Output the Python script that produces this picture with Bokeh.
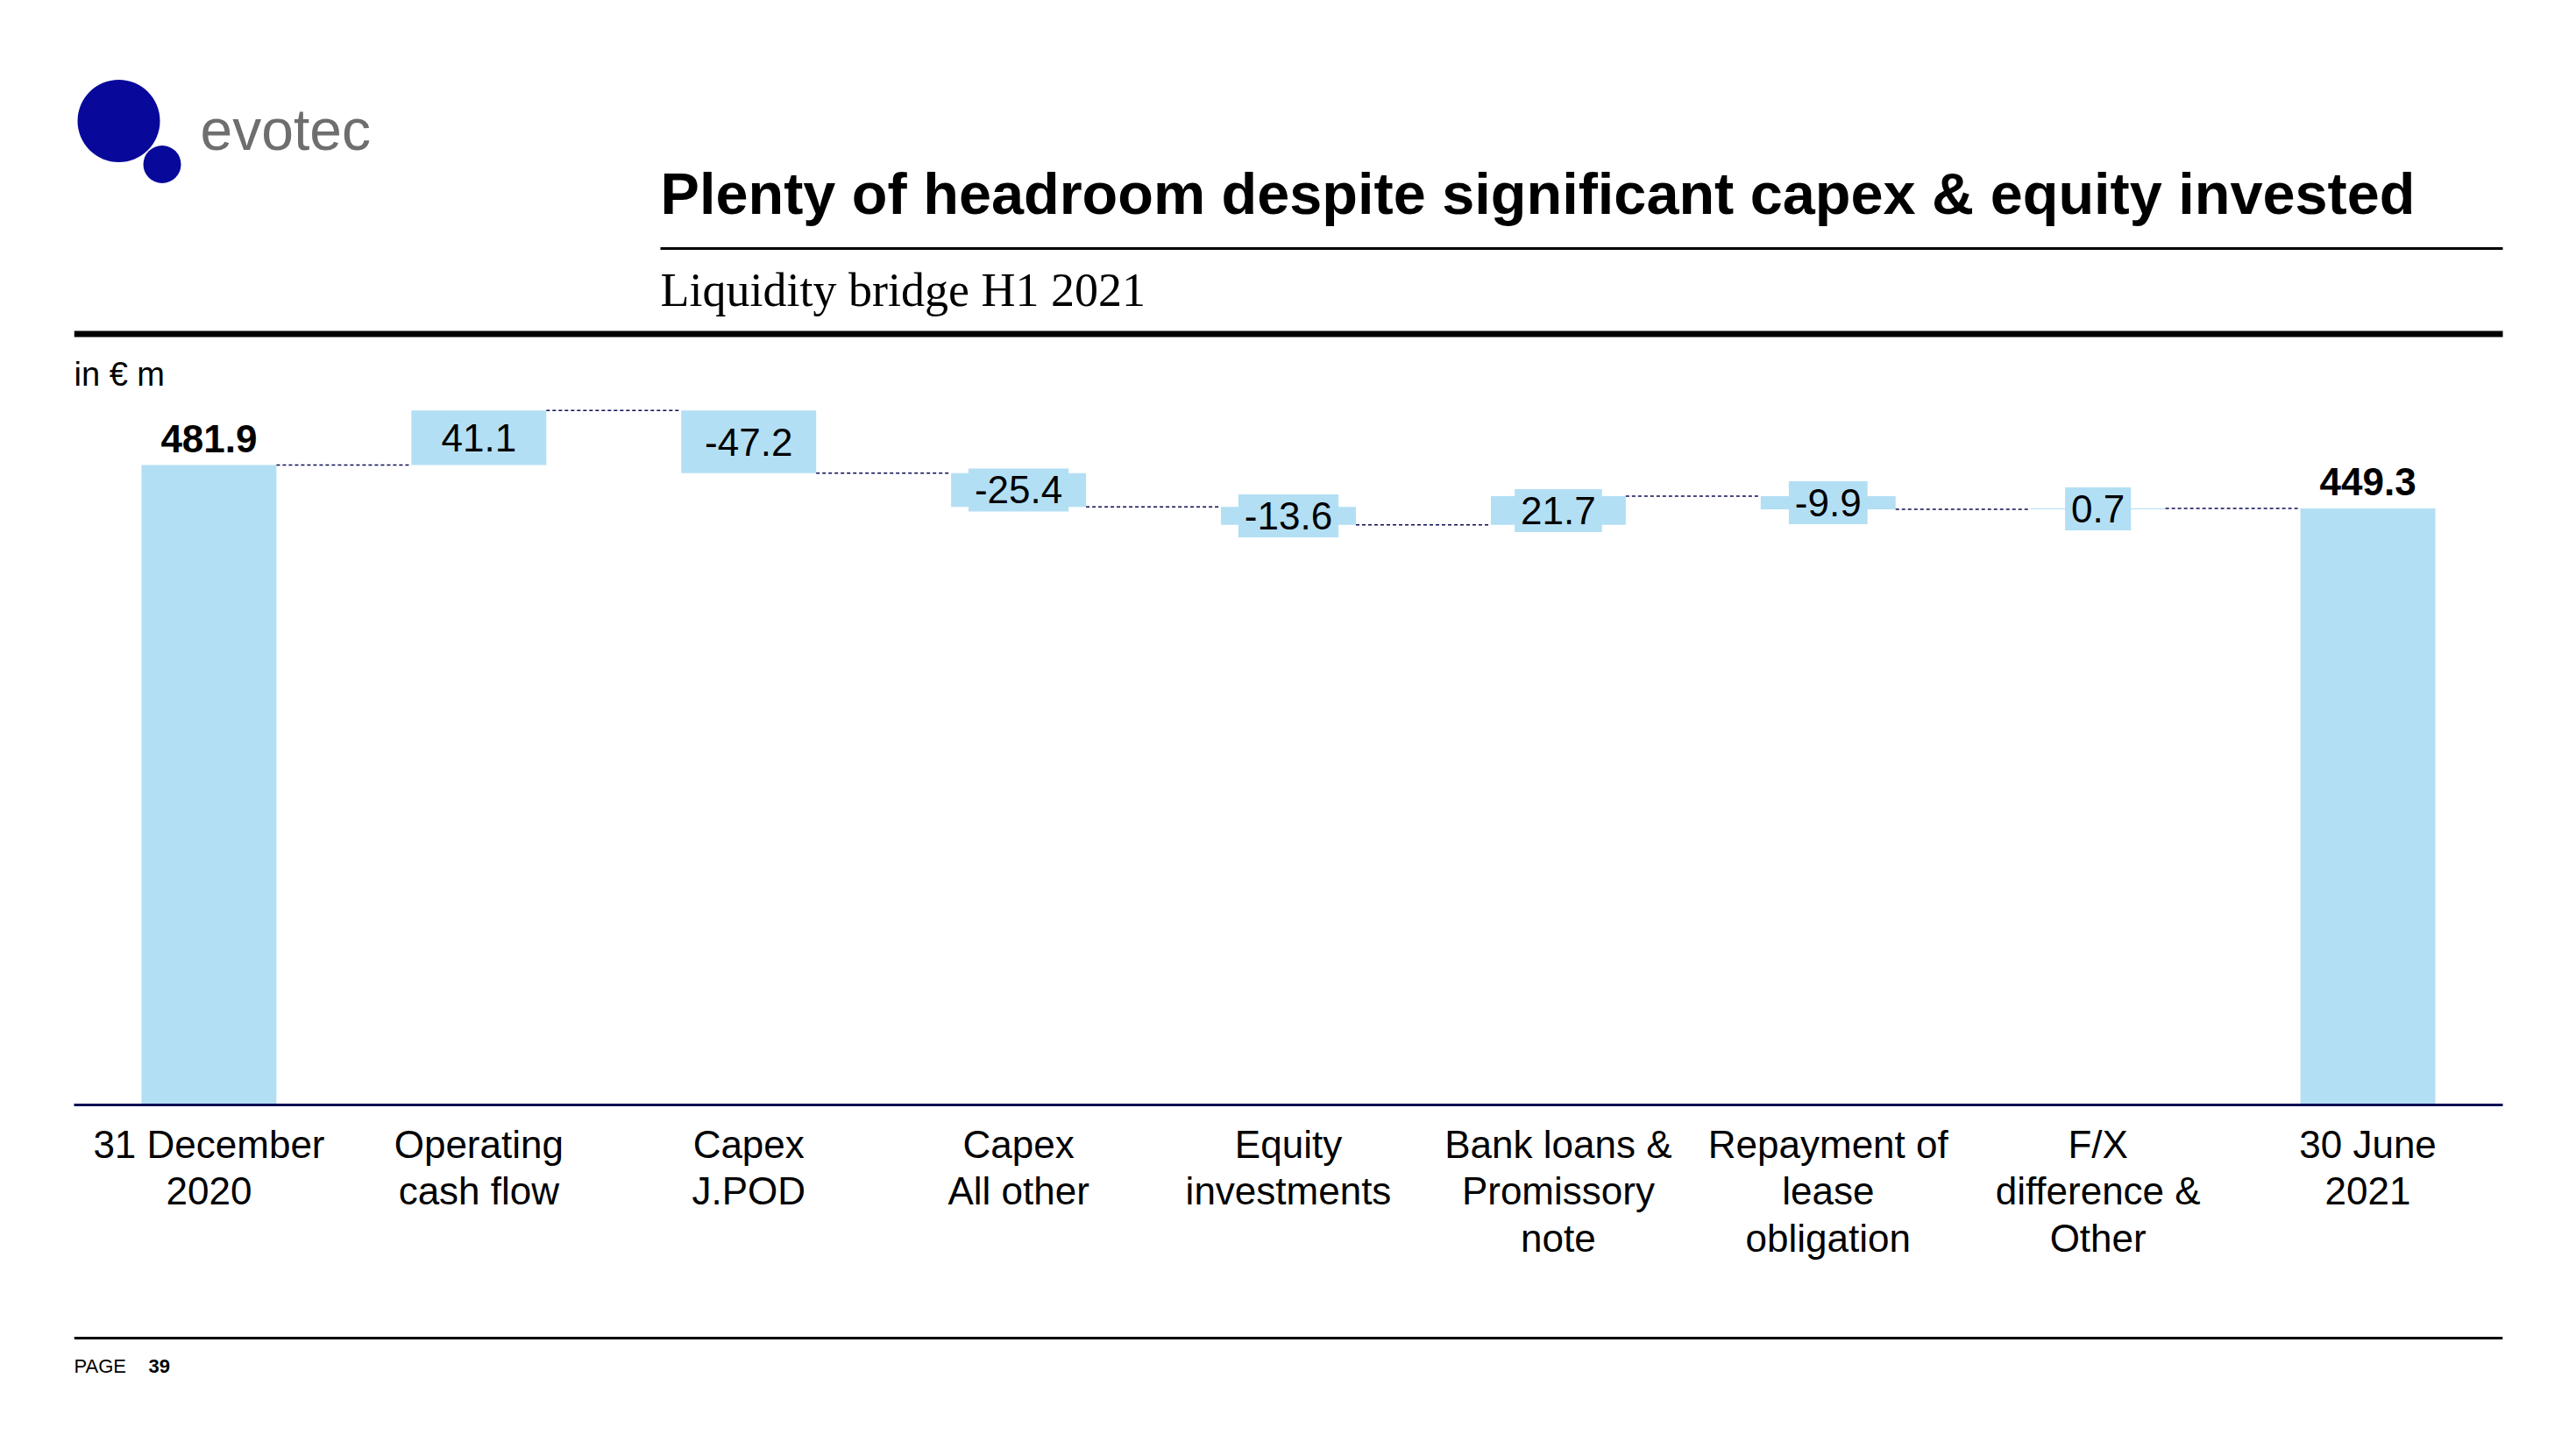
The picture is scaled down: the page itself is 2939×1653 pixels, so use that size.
from bokeh.plotting import figure
from bokeh.models import Range1d, FactorRange, ColumnDataSource
from bokeh.layouts import column
from bokeh.core.properties import value
from bokeh.embed import file_html
from bokeh.resources import INLINE

# ---------------- data ----------------
categories = ["31 December\n2020", "Operating\ncash flow", "Capex\nJ.POD", "Capex\nAll other",
              "Equity\ninvestments", "Bank loans &\nPromissory\nnote", "Repayment of\nlease\nobligation",
              "F/X\ndifference &\nOther", "30 June\n2021"]
start_total = 481.9
deltas = [41.1, -47.2, -25.4, -13.6, 21.7, -9.9, 0.7]
end_total = 449.3
value_labels = ["481.9", "41.1", "-47.2", "-25.4", "-13.6", "21.7", "-9.9", "0.7", "449.3"]

title_text = "Plenty of headroom despite significant capex & equity invested"
subtitle_text = "Liquidity bridge H1 2021"
unit_text = "in € m"
brand_text = "evotec"
page_word = "PAGE"
page_num = "39"

# ---------------- styles / layout ----------------
FONT = value("Liberation Sans")
SERIF = value("Liberation Serif")
BAR = "#b3dff4"
NAVY = "#0c0c55"
LOGO_BLUE = "#08089a"
W = 2939
LEFT = 84
RIGHT = 84
H_HEAD = 448
H_CHART = 1032
H_FOOT = 173
BOTTOM = 220
PX_PER_UNIT = 1.5148


def blank(h):
    f = figure(width=W, height=h, x_range=Range1d(LEFT, W - RIGHT), y_range=Range1d(h, 0),
               x_axis_location=None, y_axis_location=None, toolbar_location=None,
               output_backend="svg", min_border_left=LEFT, min_border_right=RIGHT,
               min_border_top=0, min_border_bottom=0)
    f.outline_line_color = None
    f.grid.visible = False
    f.background_fill_color = "white"
    f.border_fill_color = "white"
    return f

# ---------------- header ----------------
head = blank(H_HEAD)
head.scatter(x=[135], y=[137.5], size=94, marker="circle", fill_color=LOGO_BLUE, line_color=None)
head.scatter(x=[184.5], y=[187], size=43, marker="circle", fill_color=LOGO_BLUE, line_color=None)
head.text(x=[228], y=[147], text=[brand_text], text_font=FONT, text_font_size="66px",
          text_color="#6e6e6e", text_baseline="middle", text_align="left")
head.text(x=[753], y=[220], text=[title_text], text_font=FONT, text_font_style="bold",
          text_font_size="66.6px", text_color="black", text_baseline="middle", text_align="left")
head.segment(x0=[753], y0=[283], x1=[2857], y1=[283], line_color="black", line_width=3)
head.text(x=[753], y=[330], text=[subtitle_text], text_font=SERIF, text_font_size="54px",
          text_color="black", text_baseline="middle", text_align="left")
head.segment(x0=[LEFT], y0=[380.5], x1=[2857], y1=[380.5], line_color="black", line_width=7)
head.text(x=[LEFT], y=[426], text=[unit_text], text_font=FONT, text_font_size="38px",
          text_color="black", text_baseline="middle", text_align="left")

# ---------------- chart ----------------
running = [start_total]
for d in deltas:
    running.append(round(running[-1] + d, 1))

bottoms = [0.0]
tops = [start_total]
for i, d in enumerate(deltas):
    bottoms.append(min(running[i], running[i + 1]))
    tops.append(max(running[i], running[i + 1]))
bottoms.append(0.0)
tops.append(end_total)

src = ColumnDataSource(dict(cat=categories, bottom=bottoms, top=tops, label=value_labels,
                            mid=[(b + t) / 2 for b, t in zip(bottoms, tops)]))

frame_h = H_CHART - BOTTOM
chart = figure(width=W, height=H_CHART, x_range=FactorRange(*categories, range_padding=0),
               y_range=Range1d(0, frame_h / PX_PER_UNIT), y_axis_location=None,
               toolbar_location=None, output_backend="svg",
               min_border_left=LEFT, min_border_right=RIGHT, min_border_top=0,
               min_border_bottom=BOTTOM)
chart.outline_line_color = None
chart.grid.visible = False

chart.vbar(x="cat", bottom="bottom", top="top", width=0.5, source=src,
           fill_color=BAR, line_color=None)

# connectors between consecutive bars at the running level
cx0, cx1, cy = [], [], []
for i in range(len(categories) - 1):
    cx0.append(i + 0.75)
    cx1.append(i + 1.25)
    cy.append(running[i])
chart.segment(x0=cx0, y0=cy, x1=cx1, y1=cy, line_color=NAVY, line_width=1.5, line_dash="4 3")

# total labels
tot = ColumnDataSource(dict(cat=[categories[0], categories[-1]], y=[start_total, end_total],
                            label=[value_labels[0], value_labels[-1]]))
chart.text(x="cat", y="y", text="label", source=tot, text_font=FONT, text_font_style="bold",
           text_font_size="44px", text_align="center", text_baseline="middle", y_offset=-30,
           text_color="black")

# delta labels
dsrc = ColumnDataSource(dict(cat=categories[1:-1], y=src.data["mid"][1:-1], label=value_labels[1:-1]))
chart.text(x="cat", y="y", text="label", source=dsrc, text_font=FONT, text_font_size="44px",
           text_align="center", text_baseline="middle", text_color="black",
           background_fill_color=BAR, padding=dict(left=7, right=7, top=9, bottom=9))

ax = chart.xaxis[0]
ax.axis_line_color = NAVY
ax.axis_line_width = 3
ax.major_tick_line_color = None
ax.minor_tick_line_color = None
ax.major_tick_out = 0
ax.major_label_standoff = 20
ax.major_label_text_font = "Liberation Sans"
ax.major_label_text_font_size = "44px"
ax.major_label_text_color = "black"
ax.major_label_text_line_height = 1.1

# ---------------- footer ----------------
foot = blank(H_FOOT)
foot.segment(x0=[LEFT], y0=[46], x1=[2855], y1=[46], line_color="black", line_width=3)
foot.text(x=[LEFT], y=[78], text=[page_word], text_font=FONT, text_font_size="22px",
          text_color="black", text_baseline="middle", text_align="left")
foot.text(x=[169], y=[78], text=[page_num], text_font=FONT, text_font_style="bold",
          text_font_size="22px", text_color="black", text_baseline="middle", text_align="left")

layout = column(head, chart, foot, spacing=0)
open("out.html", "w").write(file_html(layout, INLINE))
